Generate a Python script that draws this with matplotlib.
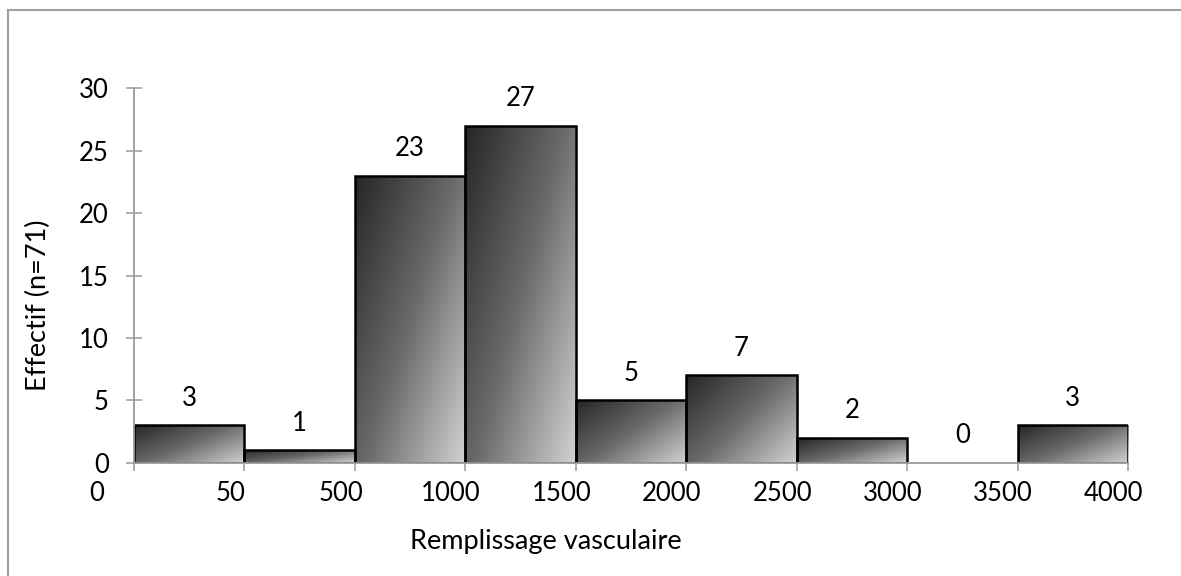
import numpy as np
import matplotlib
matplotlib.use("Agg")
import matplotlib.pyplot as plt
from matplotlib.colors import LinearSegmentedColormap
from matplotlib.lines import Line2D

# Data
bin_edges_labels = ["0", "50", "500", "1000", "1500", "2000", "2500", "3000", "3500", "4000"]
counts = [3, 1, 23, 27, 5, 7, 2, 0, 3]
x_label = "Remplissage vasculaire"
y_label = "Effectif (n=71)"
y_ticks = [0, 5, 10, 15, 20, 25, 30]

FONT = ["Lato", "DejaVu Sans"]
plt.rcParams["font.family"] = FONT
FS = 18.5

W, H = 1181, 576
fig = plt.figure(figsize=(W / 100, H / 100), dpi=100)
ax = fig.add_axes([134 / W, 1 - 462.7 / H, (1128 - 134) / W, (462.7 - 88.3) / H])

n = len(counts)

cmap = LinearSegmentedColormap.from_list("g", ["#262626", "#6a6a6a", "#d2d2d2"])
gx, gy = np.meshgrid(np.linspace(0, 1, 200), np.linspace(0, 1, 200))
grad = (gx * 0.55 + gy * 0.45)  # top row first (origin upper)

for i, c in enumerate(counts):
    if c <= 0:
        continue
    bars = ax.bar(i, c, width=1.0, align="edge", facecolor="none",
                  edgecolor="black", linewidth=1.8, zorder=3)
    patch = bars[0]
    im = ax.imshow(grad, cmap=cmap, extent=[i, i + 1, 0, c], origin="upper",
                   aspect="auto", zorder=2, interpolation="bilinear")
    im.set_clip_path(patch)

ax.set_xlim(0, n)
ax.set_ylim(0, 30)

# value labels above bars
for i, c in enumerate(counts):
    ax.annotate(str(c), xy=(i + 0.5, c), xytext=(0, 19.5), textcoords="offset points",
                ha="center", va="center", fontsize=FS, color="black")

# spines
for s in ["top", "right"]:
    ax.spines[s].set_visible(False)
for s in ["left", "bottom"]:
    ax.spines[s].set_color("#9a9a9a")
    ax.spines[s].set_linewidth(1.3)
    ax.spines[s].set_zorder(4)

ax.set_yticks(y_ticks)
ax.set_yticklabels([str(t) for t in y_ticks])
ax.tick_params(axis="y", direction="inout", length=12, width=1.1, color="#9a9a9a",
               labelsize=FS, pad=12)
ax.set_xticks(range(n + 1))
ax.set_xticklabels([])
ax.tick_params(axis="x", direction="out", length=6, width=1.1, color="#9a9a9a")

# bin edge labels (placed slightly left of each edge)
offsets = [-0.34] + [-0.13] * (len(bin_edges_labels) - 1)
for j, lab in enumerate(bin_edges_labels):
    ax.annotate(lab, xy=(j + offsets[j], 0), xytext=(0, -22), textcoords="offset points",
                ha="center", va="center", fontsize=FS, color="black", annotation_clip=False)

fig.text(546 / W, 1 - 542 / H, x_label, ha="center", va="center", fontsize=19.5)
fig.text(38 / W, 1 - 305 / H, y_label, ha="center", va="center", fontsize=19.5, rotation=90)

# outer frame (top and left only visible)
fig.add_artist(Line2D([7.5 / W, 7.5 / W], [1 - 10 / H, 0], transform=fig.transFigure,
                      color="#a0a0a0", linewidth=1.5))
fig.add_artist(Line2D([7.5 / W, 1], [1 - 10 / H, 1 - 10 / H], transform=fig.transFigure,
                      color="#a0a0a0", linewidth=1.5))

fig.savefig("out.png", dpi=100)
